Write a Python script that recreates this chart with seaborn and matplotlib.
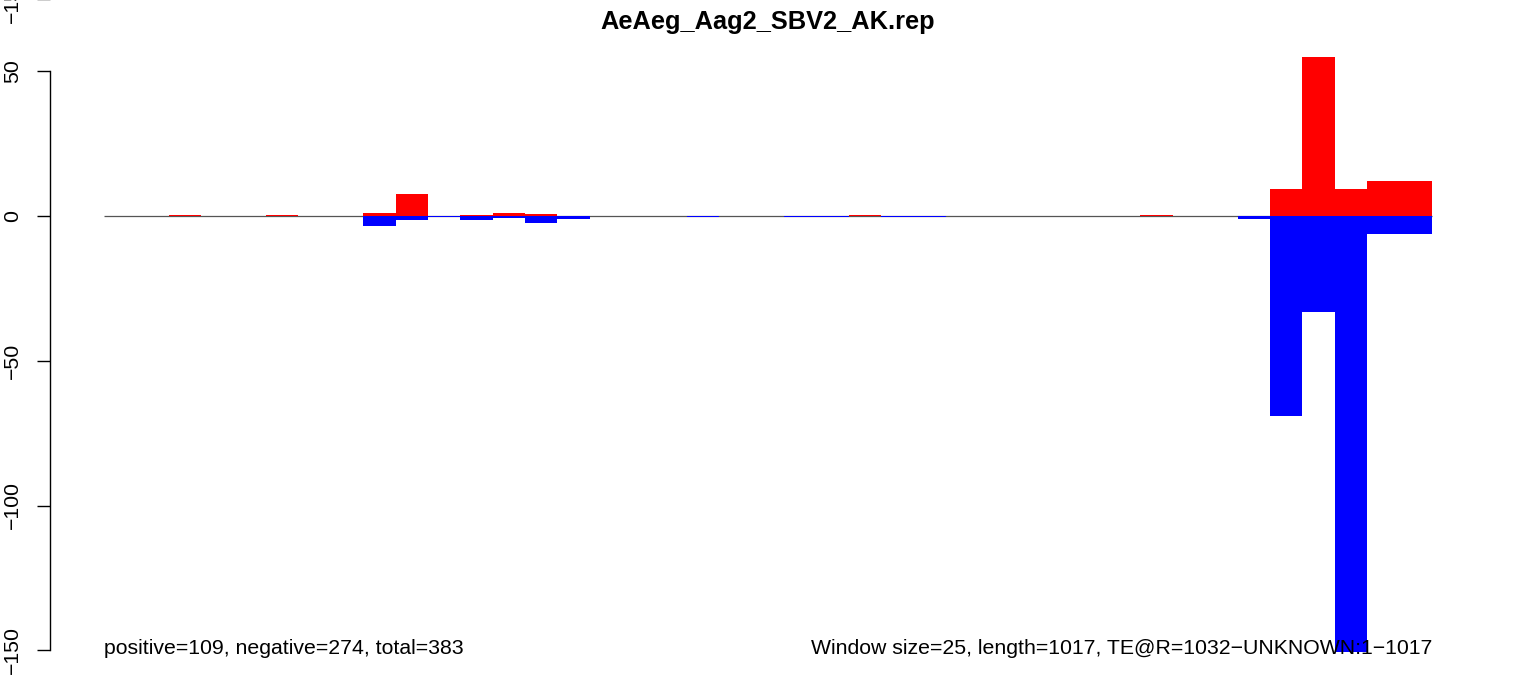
import matplotlib
matplotlib.use("Agg")
import matplotlib.pyplot as plt
import seaborn as sns
import numpy as np
import pandas as pd

sns.set_theme(style="white")
plt.rcParams['font.family'] = ['Liberation Sans', 'DejaVu Sans']

title = "AeAeg_Aag2_SBV2_AK.rep"
left_note = "positive=109, negative=274, total=383"
right_note = "Window size=25, length=1017, TE@R=1032\u2212UNKNOWN:1\u22121017"

window_index = list(range(41))
positive = [0, 0, 0.45, 0, 0, 0.45, 0, 0, 1.0, 7.6,
            0, 0.5, 1.0, 0.7, 0, 0, 0, 0, 0, 0,
            0, 0, 0, 0.45, 0, 0, 0, 0, 0, 0,
            0, 0, 0.45, 0, 0, 0, 9.4, 54.9, 9.4, 12.2,
            12.2]
negative = [0, 0, 0, 0, 0, 0, 0, 0, 3.4, 1.3,
            0.45, 1.3, 0.6, 2.3, 0.9, 0, 0, 0, 0.45, 0,
            0, 0.45, 0.45, 0, 0.45, 0.45, 0, 0, 0, 0,
            0, 0, 0, 0, 0, 0.9, 69.0, 33.2, 150.5, 6.1,
            6.1]
y_ticks = [-150, -100, -50, 0, 50]

W, H = 1536, 677
fig = plt.figure(figsize=(W / 100, H / 100), dpi=100)

px_per_win = (1432 - 104) / 41.0
px_per_unit = 2.895
ax_left_px, ax_right_px = 50, 1480
ax_top_px, ax_bot_px = 30, 660
ax = fig.add_axes([ax_left_px / W, (H - ax_bot_px) / H,
                   (ax_right_px - ax_left_px) / W, (ax_bot_px - ax_top_px) / H])

df = pd.DataFrame({"win": window_index,
                   "pos": positive,
                   "neg": [-v for v in negative]})

n = len(window_index)
ax.hlines(0, -0.5, n - 0.5, color="#555555", linewidth=0.9, zorder=0.5)
sns.barplot(data=df, x="win", y="pos", color="#FF0000", width=1.0,
            linewidth=0, saturation=1, ax=ax, zorder=2)
sns.barplot(data=df, x="win", y="neg", color="#0000FF", width=1.0,
            linewidth=0, saturation=1, ax=ax, zorder=2)

x0 = -0.5 - (104 - ax_left_px) / px_per_win
x1 = -0.5 + (ax_right_px - 104) / px_per_win
ax.set_xlim(x0, x1)
ax.set_ylim(-(ax_bot_px - 216) / px_per_unit, (216 - ax_top_px) / px_per_unit)

fs = 15.3
ax.set_xlabel("")
ax.set_ylabel("")
ax.set_xticks([])
for s in ["top", "right", "bottom"]:
    ax.spines[s].set_visible(False)
ax.spines["left"].set_bounds(y_ticks[0], y_ticks[-1])
ax.spines["left"].set_color("black")
ax.spines["left"].set_linewidth(1.0)
ax.set_yticks(y_ticks)
ax.set_yticklabels([str(t).replace("-", "\u2212") for t in y_ticks],
                   rotation=90, va="center", fontsize=fs)
ax.tick_params(axis="y", direction="out", length=9.5, width=1.0,
               color="black", pad=10.5, left=True, labelcolor="black")

ax.text(-0.5, -149.3, left_note, ha="left", va="center", fontsize=fs, color="black")
ax.text(n - 0.5, -149.3, right_note, ha="right", va="center", fontsize=fs, color="black")

fig.text(0.5, 1 - 22 / H, title, ha="center", va="center",
         fontsize=18.3, fontweight="bold", color="black")

# bottom of the previous panel (cut off at the top of the image)
ax_prev = fig.add_axes([ax_left_px / W, (H + 1) / H,
                        (ax_right_px - ax_left_px) / W, 0.5])
ax_prev.set_ylim(-150, 50)
ax_prev.set_xticks([])
for s in ["top", "right", "bottom"]:
    ax_prev.spines[s].set_visible(False)
ax_prev.patch.set_alpha(0)
ax_prev.set_yticks([-150])
ax_prev.set_yticklabels(["\u2212150"], rotation=90, va="center", fontsize=fs)
ax_prev.tick_params(axis="y", direction="out", length=9.5, width=1.0,
                    color="black", pad=10.5, left=True, labelcolor="black")

fig.savefig("out.png", dpi=100, facecolor="white")
